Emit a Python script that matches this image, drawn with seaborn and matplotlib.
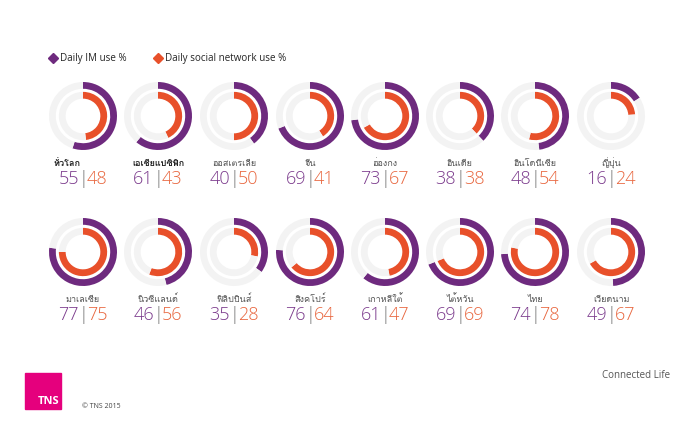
import seaborn as sns
import numpy as np
import matplotlib.pyplot as plt
from matplotlib import font_manager
from matplotlib.lines import Line2D
from matplotlib.patches import Rectangle
from fontTools.ttLib import TTFont

# data
countries = ['ทั่วโลก', 'เอเชียแปซิฟิก', 'ออสเตรเลีย', 'จีน', 'ฮ่องกง', 'อินเดีย', 'อินโดนีเซีย', 'ญี่ปุ่น',
             'มาเลเซีย', 'นิวซีแลนด์', 'ฟิลิปปินส์', 'สิงคโปร์', 'เกาหลีใต้', 'ไต้หวัน', 'ไทย', 'เวียดนาม']
im_use = [55, 61, 40, 69, 73, 38, 48, 16, 77, 46, 35, 76, 61, 69, 74, 49]
social_use = [48, 43, 50, 41, 67, 38, 54, 24, 75, 56, 28, 64, 47, 69, 78, 67]
bold_labels = ['ทั่วโลก', 'เอเชียแปซิฟิก']

PURPLE = '#6e2a7e'
ORANGE = '#e8502a'
GREY = '#f3f3f3'
W, H = 700, 423

sns.set_theme(style='white')

# find a font that can draw Thai
thai_fonts = []
for f in font_manager.fontManager.ttflist:
    try:
        cmap = TTFont(f.fname, fontNumber=0, lazy=True).getBestCmap()
        if cmap and 0x0E01 in cmap and f.name not in thai_fonts:
            thai_fonts.append(f.name)
    except Exception:
        pass
plt.rcParams['font.family'] = ['Open Sans'] + thai_fonts[:1] + ['DejaVu Sans']
thai_family = thai_fonts[:1] + ['DejaVu Sans']

fig = plt.figure(figsize=(7, 4.23), dpi=100)
bg = fig.add_axes([0, 0, 1, 1])
bg.set_xlim(0, W)
bg.set_ylim(H, 0)
bg.axis('off')

col_x = [83, 158, 234, 310, 385, 460, 535, 611]
row_y = [116, 252]
r = 34

for i, name in enumerate(countries):
    cx = col_x[i % 8]
    cy = row_y[i // 8]
    ax = fig.add_axes([(cx - r) / W, 1 - (cy + r) / H, 2 * r / W, 2 * r / H])
    ax.pie([im_use[i], 100 - im_use[i]], colors=[PURPLE, GREY], startangle=90, counterclock=False,
           radius=1, wedgeprops=dict(width=0.2, linewidth=0))
    ax.pie([social_use[i], 100 - social_use[i]], colors=[ORANGE, GREY], startangle=90, counterclock=False,
           radius=0.71, wedgeprops=dict(width=0.2, linewidth=0))
    ax.set_xlim(-1, 1)
    ax.set_ylim(-1, 1)
    ax.set_aspect('equal')
    ax.axis('off')

    is_bold = name in bold_labels
    lx = cx - 16 if name == 'ทั่วโลก' else cx
    bg.text(lx, cy + 47, name, ha='center', va='center', fontsize=6.5, family=thai_family,
            fontweight='bold' if is_bold else 'normal', color='#222222' if is_bold else '#555555')
    ny = cy + 63
    bg.text(cx - 4, ny, str(im_use[i]), ha='right', va='center', fontsize=13, fontweight='light',
            color='#7b3a8c')
    bg.text(cx, ny, '|', ha='center', va='center', fontsize=13, fontweight='light', color='#666666')
    bg.text(cx + 4, ny, str(social_use[i]), ha='left', va='center', fontsize=13, fontweight='light',
            color='#e8663e')

# legend
handles = [Line2D([], [], marker='D', color=PURPLE, linestyle='none', markersize=5, label='Daily IM use %'),
           Line2D([], [], marker='D', color=ORANGE, linestyle='none', markersize=5, label='Daily social network use %')]
bg.legend(handles=handles, loc='center left', bbox_to_anchor=(44 / W, 1 - 59 / H), ncol=2, frameon=False,
          fontsize=7.1, handletextpad=0.2, columnspacing=2.7, handlelength=1.0, borderaxespad=0)

# footer
bg.add_patch(Rectangle((25, 373), 36, 36, color='#e5007d'))
bg.text(59, 407, 'TNS', ha='right', va='bottom', fontsize=8, fontweight='bold', color='white')
bg.text(82, 407, '© TNS 2015', ha='left', va='center', fontsize=5, color='#444444')
bg.text(670, 376, 'Connected Life', ha='right', va='center', fontsize=7, color='#555555')

fig.savefig('out.png', dpi=100, facecolor='white')
